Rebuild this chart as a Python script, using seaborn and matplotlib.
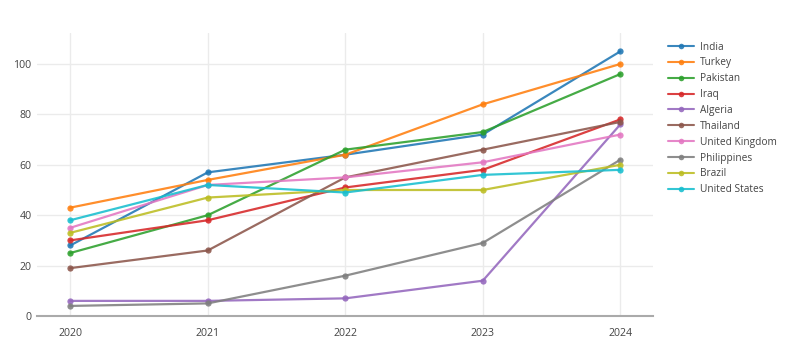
import matplotlib
matplotlib.use("Agg")
import matplotlib.pyplot as plt
import seaborn as sns
import pandas as pd

years = [2020, 2021, 2022, 2023, 2024]
countries = ["India", "Turkey", "Pakistan", "Iraq", "Algeria", "Thailand",
             "United Kingdom", "Philippines", "Brazil", "United States"]
india = [28, 57, 64, 72, 105]
turkey = [43, 54, 64, 84, 100]
pakistan = [25, 40, 66, 73, 96]
iraq = [30, 38, 51, 58, 78]
algeria = [6, 6, 7, 14, 76]
thailand = [19, 26, 55, 66, 77]
uk = [35, 52, 55, 61, 72]
philippines = [4, 5, 16, 29, 62]
brazil = [33, 47, 50, 50, 60]
usa = [38, 52, 49, 56, 58]
series = [india, turkey, pakistan, iraq, algeria, thailand, uk, philippines, brazil, usa]
yticks = [0, 20, 40, 60, 80, 100]

rows = []
for c, vals in zip(countries, series):
    for yr, v in zip(years, vals):
        rows.append({"year": yr, "value": v, "country": c})
df = pd.DataFrame(rows)

sns.set_theme(style="white")
plt.rcParams["font.family"] = ["Open Sans", "DejaVu Sans"]

fig = plt.figure(figsize=(7.85, 3.52), dpi=100)
ax = fig.add_axes([37/785, 1-316/352, (653-37)/785, (316-33)/352])

palette = sns.color_palette("tab10", 10)
sns.lineplot(data=df, x="year", y="value", hue="country", hue_order=countries,
             palette=palette, marker="o", markersize=4.5, markeredgewidth=0,
             linewidth=1.6, alpha=0.88, ax=ax)

ax.set_xlim(2019.758, 2024.238)
ax.set_ylim(0, 112.3)
ax.set_xticks(years)
ax.set_xticklabels([str(y) for y in years])
ax.set_yticks(yticks)
ax.set_xlabel("")
ax.set_ylabel("")
ax.grid(True, color="#ebebeb", linewidth=1)
ax.set_axisbelow(True)
for s in ["top", "right", "left"]:
    ax.spines[s].set_visible(False)
ax.spines["bottom"].set_color("#aaaaaa")
ax.spines["bottom"].set_linewidth(1.5)
ax.tick_params(axis="both", length=0, labelsize=7.6, colors="#444444")
ax.tick_params(axis="y", pad=4)
ax.tick_params(axis="x", pad=9)

handles, labels = ax.get_legend_handles_labels()
for h in handles:
    h.set_markersize(4)
    h.set_linewidth(1.5)
ax.legend(handles, labels, loc="upper left", bbox_to_anchor=(668/785, 1-41.5/352),
          bbox_transform=fig.transFigure, frameon=False, fontsize=7.3,
          handlelength=2.6, handletextpad=0.55, labelspacing=0.48,
          borderaxespad=0, borderpad=0, labelcolor="#444444")

fig.savefig("out.png", dpi=100)
